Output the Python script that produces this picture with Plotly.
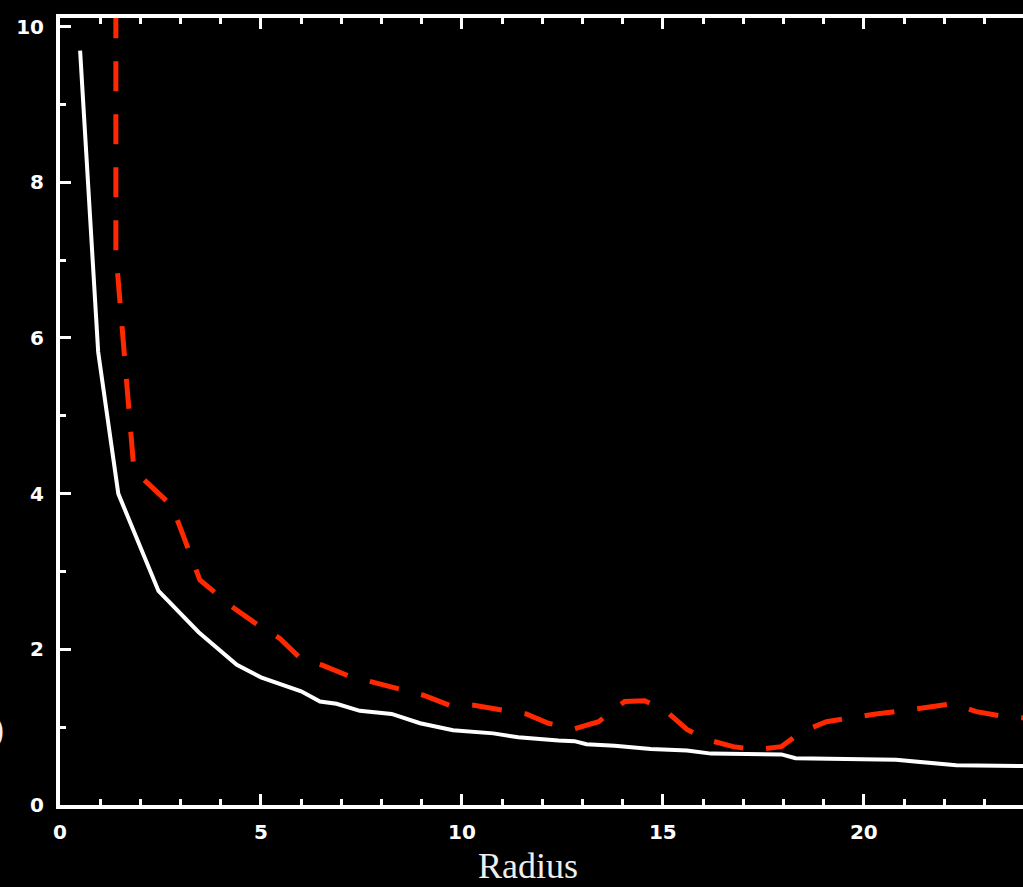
import plotly.graph_objects as go

# Radial profiles: solid white curve and dashed red curve
radius_white = [0.5, 0.95, 1.45, 2.45, 3.45, 4.4, 5.0, 6.0, 6.47, 6.88, 7.46, 8.25,
                8.96, 9.78, 10.78, 11.4, 12.4, 12.8, 13.1, 13.8, 14.7, 15.6, 16.2,
                17.95, 18.3, 19.4, 20.8, 22.3, 24.0]
value_white = [9.69, 5.82, 4.0, 2.75, 2.22, 1.80, 1.64, 1.46, 1.33, 1.30, 1.21, 1.17,
               1.05, 0.96, 0.92, 0.87, 0.83, 0.82, 0.78, 0.76, 0.72, 0.70, 0.66,
               0.65, 0.60, 0.59, 0.58, 0.51, 0.50]

radius_red = [1.39, 1.39, 1.84, 2.79, 3.48, 4.35, 4.93, 5.47, 5.97, 6.51, 7.17, 7.75,
              8.46, 9.04, 9.7, 10.3, 11.0, 11.6, 12.15, 12.8, 13.4, 14.05, 14.55,
              15.05, 15.6, 16.1, 16.75, 17.33, 17.95, 18.45, 19.07, 19.65, 20.3,
              20.95, 21.56, 22.2, 22.8, 23.45, 24.5]
value_red = [15.0, 7.1, 4.30, 3.84, 2.89, 2.52, 2.31, 2.14, 1.89, 1.80, 1.66, 1.58,
             1.49, 1.41, 1.28, 1.28, 1.22, 1.17, 1.05, 0.98, 1.07, 1.33, 1.34,
             1.22, 0.97, 0.84, 0.75, 0.71, 0.75, 0.94, 1.07, 1.12, 1.17,
             1.21, 1.26, 1.30, 1.20, 1.14, 1.10]

x_tick_vals = [0, 5, 10, 15, 20]
y_tick_vals = [0, 2, 4, 6, 8, 10]

W, H = 1023, 887
ML, MR, MT, MB = 60, 0, 18, 82

fig = go.Figure()
fig.add_trace(go.Scatter(
    x=radius_white, y=value_white, mode="lines",
    line=dict(color="white", width=4), showlegend=False,
))
fig.add_trace(go.Scatter(
    x=radius_red, y=value_red, mode="lines",
    line=dict(color="rgb(255,40,0)", width=5, dash="30px,23px"), showlegend=False,
))

tick_font = dict(family="DejaVu Sans", size=20, color="white", weight="bold")

fig.update_xaxes(
    range=[0, 23.96], showgrid=False, zeroline=False,
    showline=True, linecolor="white", linewidth=4, mirror="ticks",
    ticks="inside", ticklen=11, tickwidth=3, tickcolor="white",
    tickvals=x_tick_vals, ticktext=[str(v) for v in x_tick_vals],
    tickfont=tick_font, ticklabelstandoff=6,
    minor=dict(dtick=1, tick0=0, ticks="inside", ticklen=6, tickwidth=3,
               tickcolor="white", showgrid=False),
)
fig.update_yaxes(
    range=[0, 10.11], showgrid=False, zeroline=False,
    showline=True, linecolor="white", linewidth=4, mirror=False,
    ticks="inside", ticklen=11, tickwidth=3, tickcolor="white",
    tickvals=y_tick_vals, ticktext=[str(v) for v in y_tick_vals],
    tickfont=tick_font, ticklabelstandoff=8,
    minor=dict(dtick=1, tick0=0, ticks="inside", ticklen=6, tickwidth=3,
               tickcolor="white", showgrid=False),
)

pw = W - ML - MR
ph = H - MT - MB


def px_to_paper_x(px):
    return (px - ML) / pw


def px_to_paper_y(py):
    return (H - MB - py) / ph


fig.add_annotation(
    text="Radius", xref="paper", yref="paper",
    x=px_to_paper_x(528), y=px_to_paper_y(866),
    xanchor="center", yanchor="middle", showarrow=False, borderpad=0,
    font=dict(family="Liberation Serif", size=36, color="#eeeeee"),
)
fig.add_annotation(
    text=")", xref="paper", yref="paper",
    x=px_to_paper_x(5), y=px_to_paper_y(729),
    xanchor="right", yanchor="middle", showarrow=False, borderpad=0,
    font=dict(family="Liberation Serif", size=36, color="#eeeeee"),
)

fig.update_layout(
    width=W, height=H,
    margin=dict(l=ML, r=MR, t=MT, b=MB, pad=0),
    paper_bgcolor="black", plot_bgcolor="black",
)

fig.write_html("out.html")
